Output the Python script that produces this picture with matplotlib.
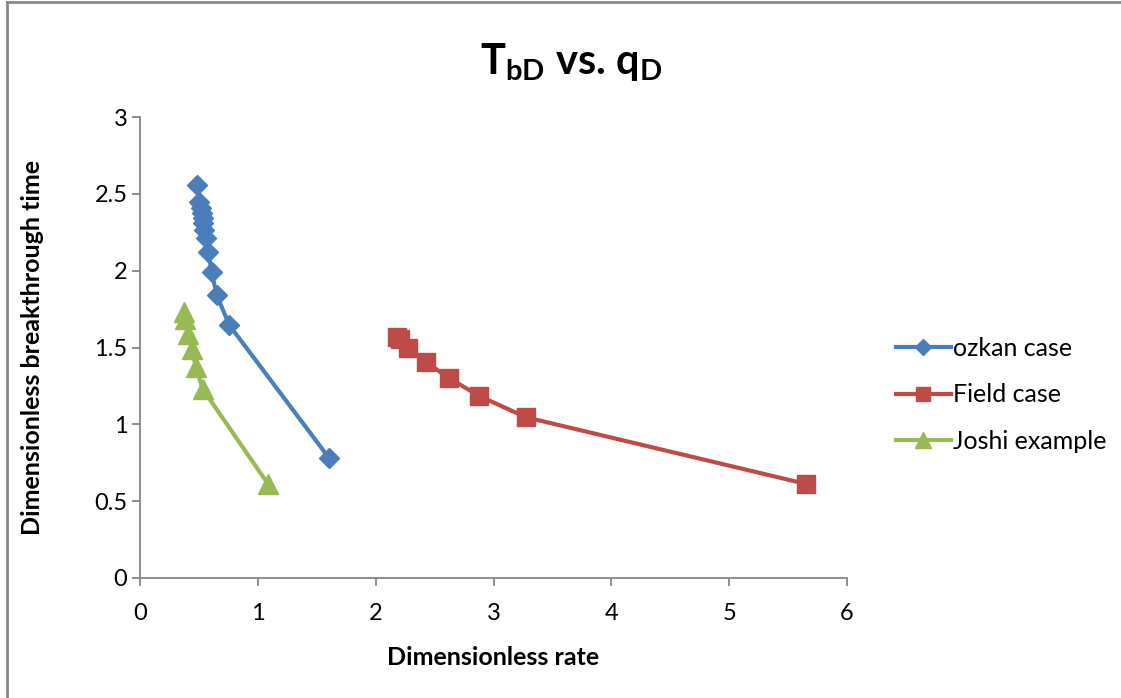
import matplotlib
matplotlib.use("Agg")
import matplotlib.pyplot as plt
from matplotlib.lines import Line2D

# data
ozkan_q = [0.48, 0.50, 0.515, 0.524, 0.532, 0.537, 0.546, 0.558, 0.58, 0.608, 0.651, 0.758, 1.604]
ozkan_t = [2.557, 2.449, 2.408, 2.375, 2.344, 2.31, 2.266, 2.214, 2.122, 1.991, 1.841, 1.646, 0.781]

field_q = [2.178, 2.207, 2.277, 2.427, 2.622, 2.88, 3.276, 5.652]
field_t = [1.566, 1.555, 1.495, 1.406, 1.301, 1.184, 1.046, 0.612]

joshi_q = [0.373, 0.382, 0.41, 0.438, 0.475, 0.532, 1.086]
joshi_t = [1.729, 1.686, 1.588, 1.49, 1.371, 1.23, 0.612]

xticks = [0, 1, 2, 3, 4, 5, 6]
yticks = [0, 0.5, 1, 1.5, 2, 2.5, 3]

plt.rcParams['font.family'] = ['Lato', 'DejaVu Sans']
plt.rcParams['mathtext.fontset'] = 'custom'
plt.rcParams['mathtext.rm'] = 'Lato'
plt.rcParams['mathtext.bf'] = 'Lato:bold'

fig = plt.figure(figsize=(11.21, 6.98), dpi=100)
ax = fig.add_axes([140 / 1121, 1 - 578 / 698, 707 / 1121, 461 / 698])

blue = '#4A7EBB'
red = '#BE4B48'
green = '#98B954'

ax.plot(ozkan_q, ozkan_t, color=blue, lw=3, marker='D', ms=10,
        solid_joinstyle='round', label='ozkan case')
ax.plot(field_q, field_t, color=red, lw=3, marker='s', ms=13,
        solid_joinstyle='round', label='Field case')
ax.plot(joshi_q, joshi_t, color=green, lw=3, marker='^', ms=14,
        solid_joinstyle='round', label='Joshi example')

ax.set_xlim(0, 6)
ax.set_ylim(0, 3)
ax.set_xticks(xticks)
ax.set_yticks(yticks)
ax.set_xticklabels([str(v) for v in xticks])
ax.set_yticklabels(['0', '0.5', '1', '1.5', '2', '2.5', '3'])

for s in ['top', 'right']:
    ax.spines[s].set_visible(False)
for s in ['left', 'bottom']:
    ax.spines[s].set_color('#868686')
    ax.spines[s].set_linewidth(1.3)
ax.tick_params(axis='both', colors='#868686', width=1.3, length=6,
               labelsize=17, labelcolor='black')
ax.tick_params(axis='x', pad=12)
ax.tick_params(axis='y', pad=3)

ax.set_xlabel('Dimensionless rate', fontsize=18, fontweight='bold', labelpad=16)
ax.set_ylabel('Dimensionless breakthrough time', fontsize=18, fontweight='bold', labelpad=36)

fig.text(571 / 1121, 1 - 62 / 698, r'$\mathbf{T_{bD}}$ vs. $\mathbf{q_D}$',
         fontsize=30, fontweight='bold', ha='center', va='center')

fig.legend(loc='upper left', bbox_to_anchor=(873 / 1121, 1 - 314 / 698),
           frameon=False, fontsize=18, handlelength=2.2, handletextpad=0.1,
           labelspacing=0.95, markerscale=0.8)

# chart border (only top and left visible in the original crop)
fig.add_artist(Line2D([7 / 1121, 7 / 1121], [0, 1 - 2 / 698], color='#888888', lw=2,
                      transform=fig.transFigure))
fig.add_artist(Line2D([7 / 1121, 1], [1 - 2 / 698, 1 - 2 / 698], color='#888888', lw=2,
                      transform=fig.transFigure))

fig.savefig('out.png', dpi=100)
